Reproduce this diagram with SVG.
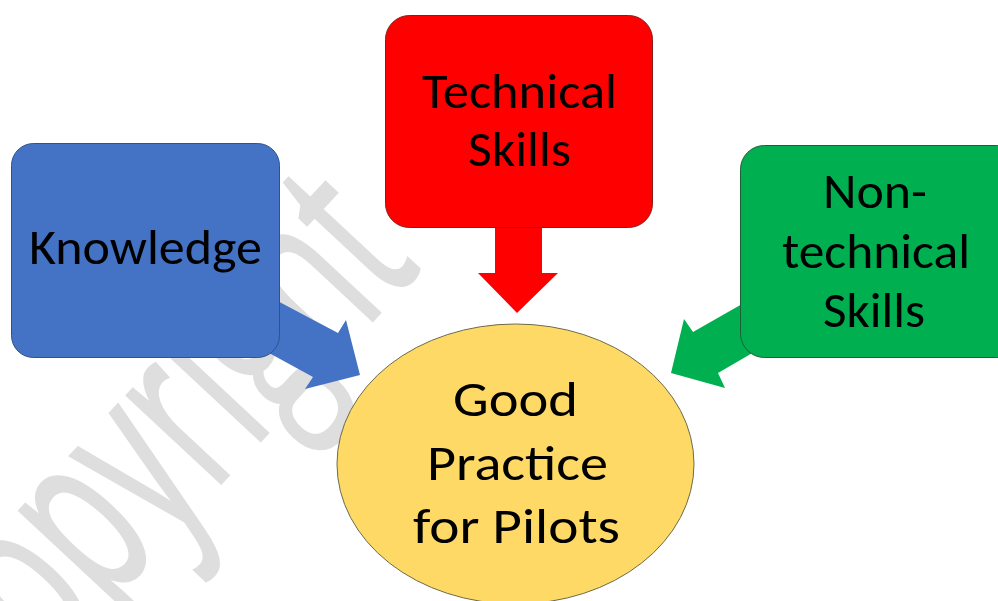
<svg xmlns="http://www.w3.org/2000/svg" width="998" height="601" viewBox="0 0 998 601">
<style>
.lbl{font-family:Carlito,Lato,"Open Sans","Liberation Sans",sans-serif;font-size:50px;fill:#000;text-anchor:middle}
.wm{font-family:"Open Sans","Noto Sans","Liberation Sans",sans-serif;font-size:240px;fill:#dedede;stroke:#dedede;stroke-width:3}
</style>
<rect width="998" height="601" fill="#fff"/>
<text class="wm" transform="translate(-14 735) rotate(-47)" textLength="640" lengthAdjust="spacingAndGlyphs">Copyright</text>
<g id="connectors">
<polygon points="236,279 338,333 346,320 360,375 305,389 313,377 229,331" fill="#4472C4"/>
<polygon points="495,200 542,200 542,273 558,273 517,313 478,273 495,273" fill="#FF0000"/>
<polygon points="779,283 693,332 684,319 671,373 725,388 718,373 787,333" fill="#00B050"/>
</g>
<g id="knowledge">
<rect x="11.5" y="143.5" width="268" height="214" rx="22" fill="#4472C4" stroke="#2F528F" stroke-width="1"/>
<text class="lbl" x="145.5" y="264" textLength="233" lengthAdjust="spacingAndGlyphs">Knowledge</text>
</g>
<g id="technical">
<rect x="385.5" y="15.5" width="267" height="212" rx="24" fill="#FF0000" stroke="#8B1A1A" stroke-width="1"/>
<text class="lbl" x="519.5" y="108" textLength="195" lengthAdjust="spacingAndGlyphs">Technical</text>
<text class="lbl" x="519.5" y="166" textLength="103" lengthAdjust="spacingAndGlyphs">Skills</text>
</g>
<g id="nontechnical">
<rect x="740.5" y="145.5" width="280" height="212" rx="24" fill="#00B050" stroke="#1E5E36" stroke-width="1"/>
<text class="lbl" x="875" y="208" textLength="104" lengthAdjust="spacingAndGlyphs">Non-</text>
<text class="lbl" x="876" y="268" textLength="188" lengthAdjust="spacingAndGlyphs">technical</text>
<text class="lbl" x="874" y="327" textLength="102" lengthAdjust="spacingAndGlyphs">Skills</text>
</g>
<g id="goodpractice">
<ellipse cx="515.5" cy="464" rx="178.5" ry="140" fill="#FFD966" stroke="#6B6B4A" stroke-width="1"/>
<text class="lbl" x="515.5" y="416" textLength="125" lengthAdjust="spacingAndGlyphs">Good</text>
<text class="lbl" x="517.5" y="480" textLength="181" lengthAdjust="spacingAndGlyphs">Practice</text>
<text class="lbl" x="516.5" y="543" textLength="207" lengthAdjust="spacingAndGlyphs">for Pilots</text>
</g>
</svg>
